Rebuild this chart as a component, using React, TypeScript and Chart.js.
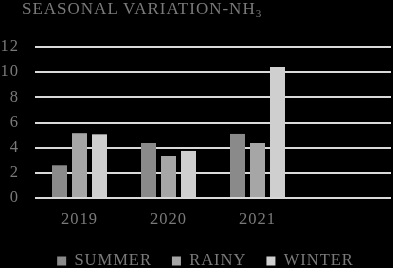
import React, { useEffect, useRef } from "react";
import { Chart, registerables } from "chart.js";

Chart.register(...registerables);

const categories = ["2019", "2020", "2021", ""];
const summer = [2.6, 4.37, 5.09, null];
const rainy = [5.15, 3.34, 4.37, null];
const winter = [5.06, 3.74, 10.41, null];
const yTicks = [0, 2, 4, 6, 8, 10, 12];

const FONT = "'Liberation Serif', 'Times New Roman', serif";
const TEXT = "#7a7a7a";
const FS = 16.5;

const spacingPlugin = {
  id: "letterSpacing",
  beforeUpdate(chart: any) {
    chart.ctx.letterSpacing = "1px";
  },
  beforeLayout(chart: any) {
    chart.ctx.letterSpacing = "1px";
  },
  afterLayout(chart: any) {
    if (chart.legend) chart.legend.left += 20;
  },
  beforeDraw(chart: any) {
    chart.ctx.letterSpacing = "1px";
  },
};

export default function App() {
  const ref = useRef<HTMLCanvasElement | null>(null);
  useEffect(() => {
    if (!ref.current) return;
    const chart = new Chart(ref.current, {
      type: "bar",
      data: {
        labels: categories,
        datasets: [
          { label: "SUMMER", data: summer, backgroundColor: "#8a8a8a" },
          { label: "RAINY", data: rainy, backgroundColor: "#a6a6a6" },
          { label: "WINTER", data: winter, backgroundColor: "#cfcfcf" },
        ],
      },
      plugins: [spacingPlugin],
      options: {
        responsive: false,
        animation: false,
        devicePixelRatio: 1,
        layout: { padding: { top: 47, right: 2, left: 0, bottom: -11.25 } },
        datasets: {
          bar: { categoryPercentage: 0.674, barPercentage: 0.75 },
        },
        plugins: {
          title: { display: false },
          tooltip: { enabled: false },
          legend: {
            position: "bottom",
            labels: {
              boxWidth: 9,
              boxHeight: 9,
              padding: 20,
              color: TEXT,
              font: { family: FONT, size: FS },
            },
          },
        },
        scales: {
          x: {
            afterFit: (s: any) => {
              s.height = 34.75;
            },
            grid: { display: false, drawTicks: false },
            border: { display: false },
            ticks: { color: TEXT, font: { family: FONT, size: FS }, padding: 12 },
          },
          y: {
            min: 0,
            max: 12,
            afterFit: (s: any) => {
              s.width = 35;
            },
            afterBuildTicks: (s: any) => {
              s.ticks = yTicks.map((v) => ({ value: v }));
            },
            grid: { color: "#d9d9d9", lineWidth: 2, drawTicks: false },
            border: { display: false },
            ticks: {
              autoSkip: false,
              color: TEXT,
              font: { family: FONT, size: FS },
              padding: 16,
            },
          },
        },
      },
    });
    return () => chart.destroy();
  }, []);
  return (
    <div
      style={{
        position: "fixed",
        left: 0,
        top: 0,
        width: 393,
        height: 268,
        background: "#000",
        overflow: "hidden",
      }}
    >
      <div
        style={{
          position: "absolute",
          left: 22,
          top: 0,
          fontFamily: FONT,
          fontSize: 17,
          lineHeight: "17px",
          letterSpacing: "1px",
          color: TEXT,
          whiteSpace: "nowrap",
        }}
      >
        SEASONAL VARIATION-NH<sub style={{ fontSize: 11, verticalAlign: "-3px" }}>3</sub>
      </div>
      <canvas ref={ref} width={393} height={268} style={{ display: "block" }} />
    </div>
  );
}
